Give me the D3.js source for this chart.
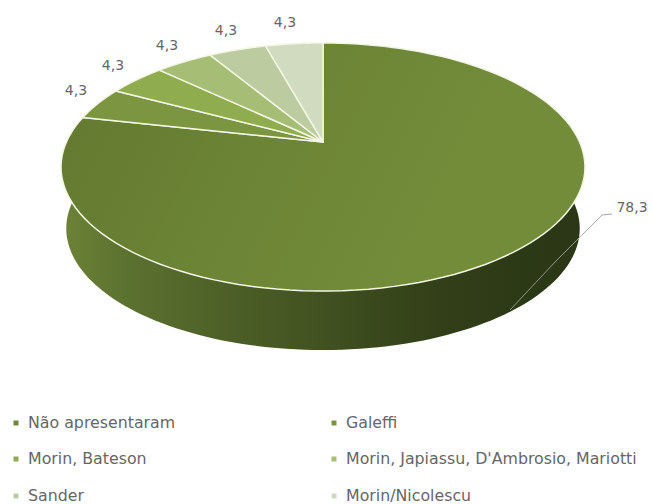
<!DOCTYPE html>
<html>
<head>
<meta charset="utf-8">
<script src="https://cdn.jsdelivr.net/npm/d3@7"></script>
<style>
  html, body { margin: 0; padding: 0; background: #fff; }
  text { font-family: "DejaVu Sans", sans-serif; fill: #666666; }
</style>
</head>
<body>
<svg id="chart" width="652" height="504"></svg>
<script>
// Share of works by theoretical reference
const categories = ["Não apresentaram", "Galeffi", "Morin, Bateson",
  "Morin, Japiassu, D'Ambrosio, Mariotti", "Sander", "Morin/Nicolescu"];
const values = [78.3, 4.3, 4.3, 4.3, 4.3, 4.3];
const valueLabels = ["78,3", "4,3", "4,3", "4,3", "4,3", "4,3"];
const colors = ["url(#face)", "#7c9540", "#8fac4f", "#a5bd74", "#bccca0", "#d0dbc0"];
const markerColors = ["#6f8737", "#7c9540", "#8fac4f", "#a5bd74", "#bccca0", "#d0dbc0"];

const labelSpots = [[632, 208], [76, 91], [113, 66], [167, 46], [226, 31], [285, 23]];
const legendColumns = [16, 334];
const legendRows = [423, 459, 496];

const svg = d3.select("#chart");

// A tilted disc in perspective: unit circle coordinates mapped to the screen.
const apex = { x: 323, y: 142 };
const tilt = 0.2016, spanX = 256.6, spanY = 119;
const project = (angle, scale = 1, drop = 0) => {
  const u = Math.sin(angle), v = Math.cos(angle), w = 1 + tilt * v;
  return [apex.x + scale * spanX * u / w, apex.y + drop - scale * spanY * v / w];
};
const sweep = (a0, a1, scale, drop) =>
  d3.range(0, 121).map(i => project(a0 + (a1 - a0) * i / 120, scale, drop));

const line = d3.line();
const arcs = d3.pie().sort(null).startAngle(0).endAngle(2 * Math.PI)(values);

const defs = svg.append("defs");
const wallFill = defs.append("linearGradient").attr("id", "wall")
  .attr("gradientUnits", "userSpaceOnUse")
  .attr("x1", 61).attr("x2", 585).attr("y1", 0).attr("y2", 0);
[[0, "#6d8337"], [0.12, "#5c7230"], [0.3, "#4e6128"], [0.5, "#415120"],
 [0.72, "#323f18"], [0.88, "#2c3915"], [1, "#2a3616"]].forEach(([o, c]) =>
  wallFill.append("stop").attr("offset", o).attr("stop-color", c));

// The large slice lightens slightly towards the front right
const faceFill = defs.append("linearGradient").attr("id", "face")
  .attr("gradientUnits", "userSpaceOnUse")
  .attr("x1", 61).attr("y1", 120).attr("x2", 400).attr("y2", 290);
[[0, "#637a30"], [0.5, "#6c8435"], [1, "#728c3a"]].forEach(([o, c]) =>
  faceFill.append("stop").attr("offset", o).attr("stop-color", c));

// Front wall of the disc, between the upper and lower rims
const wallScale = 0.98, wallDrop = 62;
const front0 = Math.PI / 2 - 0.2, front1 = 3 * Math.PI / 2 + 0.2;
const wall = sweep(front0, front1, 1, 0)
  .concat(sweep(front1, front0, wallScale, wallDrop));
svg.append("path").attr("d", line(wall) + "Z").attr("fill", "url(#wall)");

// Leader running from the large slice to its label
svg.append("path")
  .attr("d", line([[612, 214], [602, 215], [577, 240]]))
  .attr("fill", "none").attr("stroke", "#a6a6a6").attr("stroke-width", 1);
svg.append("path")
  .attr("d", line([[577, 240], [555, 262], [510, 310]]))
  .attr("fill", "none").attr("stroke", "#8f9686").attr("stroke-width", 1);

// Top face slices
svg.append("g").selectAll("path").data(arcs).join("path")
  .attr("d", d => line([[apex.x, apex.y], ...sweep(d.startAngle, d.endAngle, 1, 0)]) + "Z")
  .attr("fill", (d, i) => colors[i])
  .attr("stroke", "#f2f6e2").attr("stroke-width", 1.5).attr("stroke-linejoin", "round");

// Value labels
svg.append("g").selectAll("text").data(valueLabels).join("text")
  .attr("x", (d, i) => labelSpots[i][0])
  .attr("y", (d, i) => labelSpots[i][1])
  .attr("text-anchor", "middle").attr("dominant-baseline", "middle")
  .attr("font-size", 14)
  .text(d => d);

// Legend, two columns of three rows
const legend = svg.append("g").selectAll("g").data(categories).join("g")
  .attr("transform", (d, i) =>
    `translate(${legendColumns[i % 2]},${legendRows[Math.floor(i / 2)]})`);
legend.append("rect").attr("x", -2.5).attr("y", -2.5).attr("width", 5).attr("height", 5)
  .attr("fill", (d, i) => markerColors[i]);
legend.append("text").attr("x", 12).attr("dominant-baseline", "middle")
  .attr("font-size", 15.8).text(d => d);
</script>
</body>
</html>
